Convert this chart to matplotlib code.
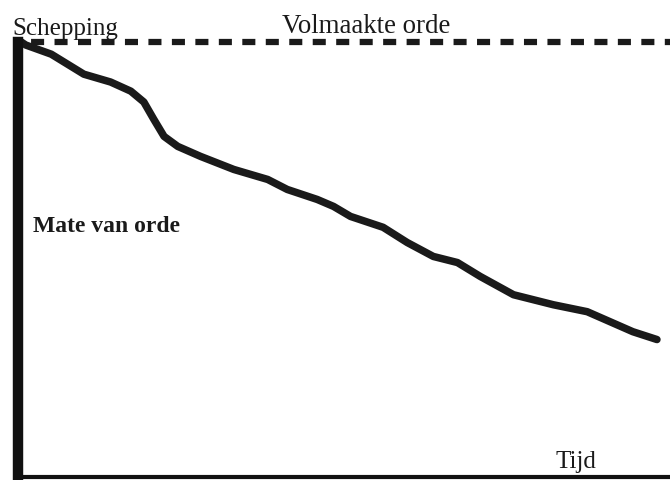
import matplotlib
matplotlib.use('Agg')
import matplotlib.pyplot as plt

plt.rcParams['lines.scale_dashes'] = False

# tijd (0-100) en mate van orde (0-100)
tijd = [0.5, 1.2, 5.1, 10.1, 14.2, 17.3, 19.3, 20.8, 22.4, 24.5, 28.0, 33.1,
        38.3, 41.3, 45.9, 48.4, 51.0, 56.0, 59.7, 63.7, 67.4, 70.9, 76.0,
        82.1, 87.3, 90.8, 94.3, 98.0]
orde = [100.0, 99.3, 97.2, 92.6, 90.8, 88.7, 86.2, 82.3, 78.3, 76.0, 73.7, 70.7,
        68.4, 66.1, 63.8, 62.2, 59.9, 57.4, 53.9, 50.7, 49.3, 46.1, 41.9,
        39.6, 38.0, 35.7, 33.4, 31.6]

volmaakt_x = [0, 100]
volmaakt_y = [100, 100]

W, H = 670, 481
fig = plt.figure(figsize=(W / 100, H / 100), dpi=100)
ax = fig.add_axes([18 / W, (H - 478) / H, (W - 18) / W, (478 - 43) / H])
ax.set_xlim(0, 100)
ax.set_ylim(0, 100)

ax.plot(volmaakt_x, volmaakt_y, color='#1a1a1a', lw=4.5, clip_on=False,
        linestyle=(7.5, (9.4, 7.5)), dash_capstyle='butt')
ax.plot(tijd, orde, color='#1a1a1a', lw=5.4, solid_capstyle='round',
        solid_joinstyle='round', clip_on=False)

for s in ['top', 'right']:
    ax.spines[s].set_visible(False)
ax.spines['left'].set_linewidth(7.5)
ax.spines['bottom'].set_linewidth(3.0)
ax.spines['left'].set_color('#111111')
ax.spines['bottom'].set_color('#111111')
ax.set_xticks([])
ax.set_yticks([])

font = dict(family='Liberation Serif', color='#1a1a1a', va='baseline')
fig.text(12 / W, 1 - 35 / H, 'Schepping', size=18, **font)
fig.text(282 / W, 1 - 33 / H, 'Volmaakte orde', size=19.4, **font)
fig.text(33 / W, 1 - 232 / H, 'Mate van orde', size=17, weight='bold', **font)
fig.text(556 / W, 1 - 468 / H, 'Tijd', size=18, **font)

fig.savefig('out.png', dpi=100)
